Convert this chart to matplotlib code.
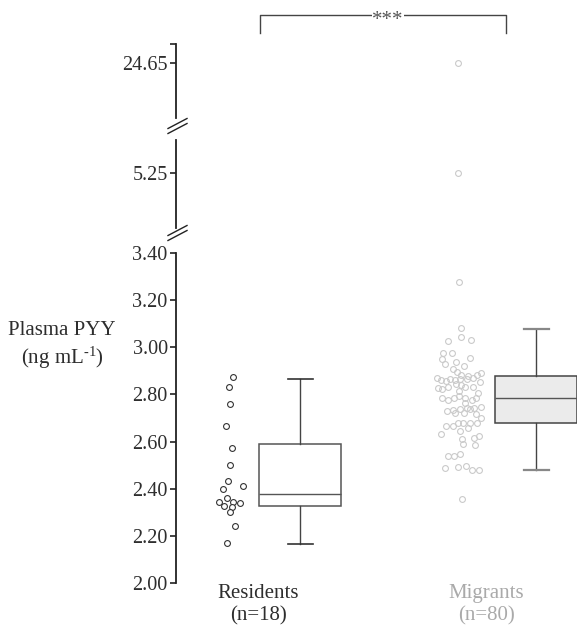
import matplotlib
matplotlib.use("Agg")
import matplotlib.pyplot as plt
from matplotlib.lines import Line2D

# ---- data ----
groups = ["Residents", "Migrants"]
group_n = [18, 80]

residents = [2.873, 2.833, 2.761, 2.665, 2.573, 2.499, 2.434, 2.412, 2.399,
             2.361, 2.342, 2.328, 2.344, 2.339, 2.322, 2.302, 2.242, 2.168]
res_jitter = [0.014, -0.003, 0.0, -0.016, 0.007, 0.0, -0.009, 0.056, -0.032,
              -0.014, -0.048, -0.026, 0.014, 0.045, 0.010, -0.001, 0.022, -0.013]

migrants = [24.65, 5.25, 3.277,
            3.081, 3.044, 3.028, 3.031, 2.975, 2.975, 2.949, 2.955, 2.929, 2.936,
            2.919, 2.908, 2.894, 2.882, 2.878, 2.884, 2.892, 2.868, 2.863, 2.857,
            2.866, 2.860, 2.864, 2.867, 2.868, 2.854, 2.844, 2.839, 2.833, 2.833,
            2.829, 2.824, 2.830, 2.816, 2.806, 2.784, 2.775, 2.784, 2.792, 2.786,
            2.778, 2.786, 2.762, 2.728, 2.733, 2.720, 2.737, 2.720, 2.744, 2.737,
            2.744, 2.748, 2.718, 2.699, 2.666, 2.666, 2.678, 2.680, 2.680, 2.679,
            2.646, 2.659, 2.632, 2.610, 2.590, 2.616, 2.625, 2.587, 2.537, 2.537,
            2.546, 2.488, 2.492, 2.498, 2.481, 2.481, 2.355]
mig_jitter = [0.001, 0.0, 0.004,
              0.015, 0.015, -0.045, 0.056, -0.066, -0.025, -0.070, 0.053, -0.056, -0.009,
              0.025, -0.023, -0.006, 0.013, 0.045, 0.083, 0.102, -0.093, -0.073, -0.053,
              -0.035, -0.013, 0.010, 0.038, 0.067, 0.098, -0.009, 0.012, 0.031, 0.067,
              -0.089, -0.069, -0.045, 0.004, 0.089, -0.070, -0.042, -0.016, 0.004, 0.029,
              0.061, 0.079, 0.029, -0.048, -0.023, -0.013, 0.009, 0.025, 0.038, 0.053,
              0.070, 0.099, 0.080, 0.101, -0.053, -0.023, 0.001, 0.023, 0.053, 0.083,
              0.009, 0.042, -0.076, 0.018, 0.022, 0.069, 0.094, 0.076, -0.042, -0.018,
              0.007, -0.056, -0.001, 0.036, 0.061, 0.092, 0.018]

# box statistics (median, quartiles, whisker ends)
box_med = [2.378, 2.784]
box_q1 = [2.325, 2.680]
box_q3 = [2.591, 2.878]
box_lo = [2.164, 2.481]
box_hi = [2.864, 3.079]

low_ticks = [2.00, 2.20, 2.40, 2.60, 2.80, 3.00, 3.20, 3.40]
mid_ticks = [5.25]
top_ticks = [24.65]
signif = "***"

# ---- figure ----
plt.rcParams['font.family'] = ['Liberation Serif', 'DejaVu Serif']
plt.rcParams['mathtext.fontset'] = 'custom'
plt.rcParams['mathtext.rm'] = 'Liberation Serif'
plt.rcParams['mathtext.default'] = 'regular'

W, H = 577, 628
fig = plt.figure(figsize=(W / 100, H / 100), dpi=100)
txt = '#2e2e2e'
axc = '#222222'
fs_tick = 14.5
fs_lab = 15

left = 176 / W
ax_low = fig.add_axes([left, 1 - 583 / H, 1 - left, 330 / H])
ax_mid = fig.add_axes([left, 1 - 228 / H, 1 - left, 88 / H])
ax_top = fig.add_axes([left, 1 - 118 / H, 1 - left, 74 / H])

scale = 330 / 1.40  # pixels per unit, same on all segments
ax_low.set_ylim(2.00, 3.40)
ax_mid.set_ylim(5.25 - 55 / scale, 5.25 + 33 / scale)
ax_top.set_ylim(24.65 - 55 / scale, 24.65 + 19 / scale)

pts_x = [0.877, 1.877]
box_x = [1.185, 2.22]

for ax in (ax_low, ax_mid, ax_top):
    ax.set_xlim(0.640, 2.399)
    for s in ('top', 'right', 'bottom'):
        ax.spines[s].set_visible(False)
    ax.spines['left'].set_color(axc)
    ax.spines['left'].set_linewidth(1.3)
    ax.tick_params(axis='y', direction='out', length=4, width=1.2, color=axc,
                   labelsize=fs_tick, labelcolor=txt, pad=2)
    ax.patch.set_alpha(0)

    ax.plot([pts_x[0] + j for j in res_jitter], residents, 'o', ms=4.2,
            mfc='white', mec='#333333', mew=0.8, linestyle='none')
    ax.plot([pts_x[1] + j for j in mig_jitter], migrants, 'o', ms=4.2,
            mfc='none', mec='#cacaca', mew=0.8, linestyle='none')

for ax in (ax_mid, ax_top):
    ax.set_xticks([])

ax_low.set_yticks(low_ticks)
ax_low.set_yticklabels([f'{t:.2f}' for t in low_ticks])
ax_mid.set_yticks(mid_ticks)
ax_mid.set_yticklabels([f'{t:.2f}' for t in mid_ticks])
ax_top.set_yticks(top_ticks + [ax_top.get_ylim()[1]])
ax_top.set_yticklabels([f'{t:.2f}' for t in top_ticks] + [''])

# boxes
stats = []
for i in range(2):
    stats.append(dict(med=box_med[i], q1=box_q1[i], q3=box_q3[i],
                      whislo=box_lo[i], whishi=box_hi[i], fliers=[]))
bp = ax_low.bxp(stats, positions=box_x, widths=0.36, showfliers=False,
                patch_artist=True, capwidths=0.11, manage_ticks=False)
box_fc = ['white', '#ebebeb']
box_ec = ['#555555', '#444444']
cap_c = ['#333333', '#888888']
for i in range(2):
    bp['boxes'][i].set_facecolor(box_fc[i])
    bp['boxes'][i].set_edgecolor(box_ec[i])
    bp['boxes'][i].set_linewidth(1.1)
    bp['medians'][i].set_color('#555555')
    bp['medians'][i].set_linewidth(1.0)
for w in bp['whiskers']:
    w.set_color('#444444')
    w.set_linewidth(1.0)
for k, c in enumerate(bp['caps']):
    c.set_color(cap_c[k // 2])
    c.set_linewidth(1.2 if k < 2 else 1.6)

# category labels
ax_low.set_xticks([1, 2])
ax_low.set_xticklabels([f'{g}\n(n={n})' for g, n in zip(groups, group_n)],
                       fontsize=fs_lab, linespacing=1.22)
ax_low.tick_params(axis='x', length=0, pad=1)
lab_colors = [txt, '#aaaaaa']
for lab, c in zip(ax_low.get_xticklabels(), lab_colors):
    lab.set_color(c)

# y label
fig.text(62 / W, 1 - 346 / H, 'Plasma PYY\n(ng mL$^{\u20101}$)', ha='center', va='center',
         fontsize=fs_lab, color=txt, linespacing=1.22, multialignment='center')

# axis break marks
def fx(x, y):
    return x / W, 1 - y / H

for yc in (126, 233):
    for dy in (-2.5, 2.5):
        x0, y0 = fx(168, yc + dy + 5)
        x1, y1 = fx(187, yc + dy - 5)
        fig.add_artist(Line2D([x0, x1], [y0, y1], color=axc, lw=1.0))

# significance bracket
br = ax_top.get_xaxis_transform()
ytop = 1 + (44 - 15) / 74
yend = 1 + (44 - 33) / 74
bx0, bx1 = 1.009, 2.088
ax_top.plot([bx0, bx0, bx1, bx1], [yend, ytop, ytop, yend], color='#444444',
            lw=1.0, transform=br, clip_on=False)
ax_top.text((bx0 + bx1) / 2 + 0.02, ytop - 0.07, signif, transform=br, ha='center',
            va='center', fontsize=fs_lab, color='#555555',
            bbox=dict(facecolor='white', edgecolor='none', pad=0.3))

fig.savefig('out.png', dpi=100)
